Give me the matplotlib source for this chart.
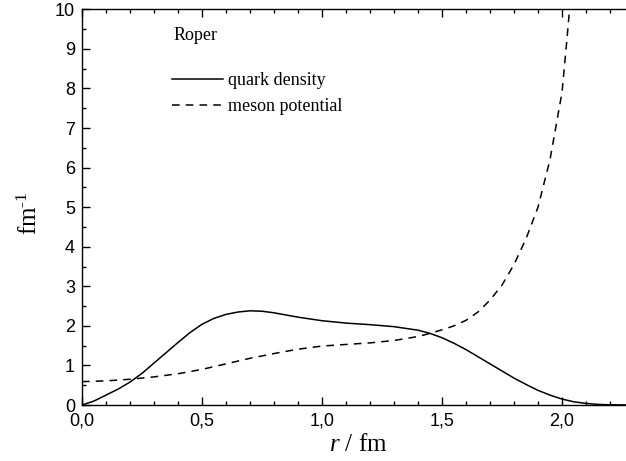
import matplotlib
matplotlib.use('Agg')
import matplotlib.pyplot as plt
from matplotlib.ticker import MultipleLocator, FuncFormatter

plt.rcParams['font.family'] = ['Liberation Sans', 'DejaVu Sans']
plt.rcParams['mathtext.fontset'] = 'custom'
plt.rcParams['mathtext.rm'] = 'Liberation Serif'
plt.rcParams['mathtext.it'] = 'Liberation Serif:italic'

# ---------- Data ----------
r_quark = [0.0, 0.05, 0.1, 0.15, 0.2, 0.25, 0.3, 0.35, 0.4, 0.45, 0.5, 0.55,
           0.6, 0.65, 0.7, 0.75, 0.8, 0.9, 1.0, 1.1, 1.2, 1.3, 1.4, 1.45,
           1.5, 1.55, 1.6, 1.65, 1.7, 1.75, 1.8, 1.85, 1.9, 1.95, 2.0, 2.05,
           2.1, 2.15, 2.2, 2.3]
quark_density = [0.0, 0.1, 0.25, 0.4, 0.58, 0.8, 1.06, 1.32, 1.58, 1.83, 2.04, 2.19,
                 2.29, 2.35, 2.38, 2.37, 2.33, 2.22, 2.13, 2.07, 2.03, 1.98, 1.89, 1.81,
                 1.7, 1.56, 1.4, 1.22, 1.04, 0.86, 0.68, 0.52, 0.37, 0.25, 0.15, 0.08,
                 0.04, 0.015, 0.005, 0.0]

r_meson = [0.0, 0.1, 0.2, 0.3, 0.4, 0.5, 0.6, 0.7, 0.8, 0.9, 1.0, 1.1, 1.2,
           1.3, 1.4, 1.45, 1.5, 1.55, 1.6, 1.65, 1.7, 1.75, 1.8, 1.85, 1.9,
           1.95, 2.0, 2.02, 2.04]
meson_potential = [0.59, 0.61, 0.65, 0.71, 0.79, 0.9, 1.04, 1.18, 1.3, 1.41, 1.49, 1.53, 1.57,
                   1.63, 1.73, 1.81, 1.9, 2.0, 2.14, 2.35, 2.65, 3.03, 3.55, 4.2, 5.0,
                   6.2, 7.9, 9.2, 10.6]

W, H = 626, 461
AX_W = 2.3 * 240          # axes width in px (runs past the right edge, like the cropped original)
AX_H = 405 - 9.3
fig = plt.figure(figsize=(W / 100, H / 100), dpi=100)
ax = fig.add_axes([82 / W, 1 - 405 / H, AX_W / W, AX_H / H])

ax.plot(r_quark, quark_density, color='black', lw=1.1, label='quark density')
ax.plot(r_meson, meson_potential, color='black', lw=1.1, linestyle=(0, (5, 4)),
        label='meson potential')

ax.set_xlim(0, 2.3)
ax.set_ylim(0, 10)

ax.xaxis.set_major_locator(MultipleLocator(0.5))
ax.xaxis.set_minor_locator(MultipleLocator(0.1))
ax.yaxis.set_major_locator(MultipleLocator(1))
ax.yaxis.set_minor_locator(MultipleLocator(0.5))
ax.xaxis.set_major_formatter(FuncFormatter(lambda v, p: f'{v:.1f}'.replace('.', ',')))

ax.tick_params(which='both', direction='in', top=True, right=True, width=1.0,
               labelsize=13, colors='black')
ax.tick_params(which='major', length=5.5)
ax.tick_params(which='minor', length=3)
ax.tick_params(axis='x', pad=5.5)
ax.tick_params(axis='y', pad=5)
for s in ax.spines.values():
    s.set_linewidth(1.0)

ax.set_xlabel('$r$ / fm', fontsize=18, family='Liberation Serif')
ax.xaxis.set_label_coords((358 - 82) / AX_W, -(434 - 405) / AX_H)
ax.set_ylabel('fm$^{\\text{-1}}$', fontsize=18, family='Liberation Serif')
ax.yaxis.set_label_coords(-(82 - 42) / AX_W, (405 - 213) / AX_H)

ax.text(174 / W, 1 - 35 / H, 'Roper', transform=fig.transFigure, fontsize=13,
        family='Liberation Serif', ha='left', va='center')

ax.legend(loc='upper left', bbox_to_anchor=(172 / W, 1 - 72 / H),
          bbox_transform=fig.transFigure, frameon=False, borderpad=0,
          borderaxespad=0, handlelength=2.8, handletextpad=0.3,
          labelspacing=0.5, prop={'family': 'Liberation Serif', 'size': 13})

fig.savefig('out.png', dpi=100)
